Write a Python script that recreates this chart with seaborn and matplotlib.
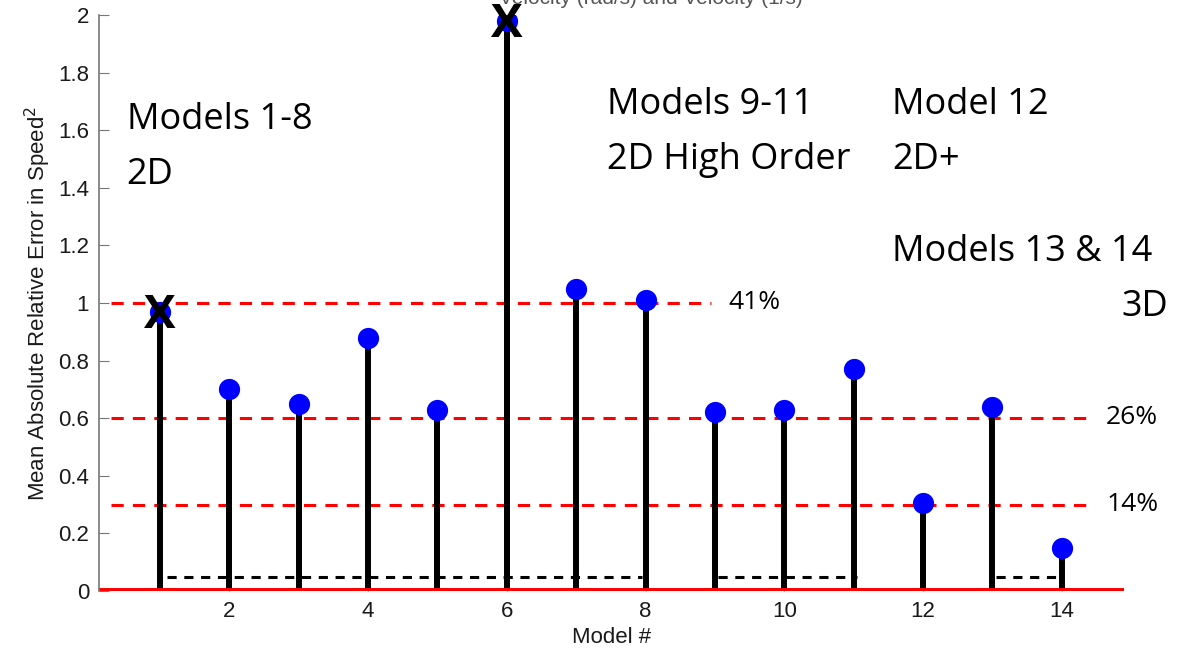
import matplotlib
matplotlib.use("Agg")
import matplotlib.pyplot as plt
import seaborn as sns
import pandas as pd

models = list(range(1, 15))
errors = [0.97, 0.70, 0.65, 0.88, 0.63, 1.98, 1.05, 1.01, 0.62, 0.63, 0.77, 0.305, 0.64, 0.15]
crossed = [1, 6]

thresholds = [1.0, 0.6, 0.3]
threshold_ends = [8.95, 14.35, 14.35]
threshold_labels = ['41%', '26%', '14%']

baseline_y = 0.05
baseline_spans = [(1.1, 7.95), (9.05, 11.05), (13.05, 14.0)]

df = pd.DataFrame({'model': models, 'error': errors})

sns.set_style("ticks")
plt.rcParams['font.family'] = ['Liberation Sans', 'DejaVu Sans']

fig = plt.figure(figsize=(11.88, 6.53), dpi=100)
ax = fig.add_axes([0.0833, 0.095, 0.863, 0.882])

# stems
ax.vlines(df['model'], 0, df['error'], color='black', linewidth=4.3, zorder=3)
sns.scatterplot(data=df, x='model', y='error', color='#0000ff', s=200,
                edgecolor='#0000ff', zorder=4, ax=ax, legend=False)

# threshold lines
for y, x_end in zip(thresholds, threshold_ends):
    ax.plot([0.3, x_end], [y, y], color='red', linestyle=(0, (4, 3)), linewidth=2.2, zorder=2)

# black dashed baseline
for x0, x1 in baseline_spans:
    ax.plot([x0, x1], [baseline_y, baseline_y], color='black', linestyle=(0, (3, 2.5)),
            linewidth=2.2, zorder=2)

# red zero line
ax.plot([0.12, 14.9], [0, 0], color='red', linewidth=5, zorder=5, solid_capstyle='butt')

ax.set_xlim(0.12, 14.9)
ax.set_ylim(0, 2)
ax.set_xticks(range(2, 15, 2))
ax.set_yticks([i / 5 for i in range(11)])
ax.set_yticklabels(['0', '0.2', '0.4', '0.6', '0.8', '1', '1.2', '1.4', '1.6', '1.8', '2'])
ax.tick_params(axis='both', direction='in', length=7, labelsize=16, colors='#1a1a1a',
               color='#777777', pad=7)
for side in ['top', 'right', 'bottom']:
    ax.spines[side].set_visible(False)
ax.spines['left'].set_color('#777777')
ax.spines['left'].set_linewidth(1.2)

ax.set_xlabel('Model #', fontsize=16, color='#1a1a1a', labelpad=4)
ax.set_ylabel('Mean Absolute Relative Error in Speed$^2$', fontsize=16, color='#1a1a1a',
              labelpad=4)

# title, mostly cut off by the top edge as in the source
fig.text(0.548, 0.994, 'Velocity (rad/s) and Velocity (1/s)', fontsize=15, color='#555555',
         ha='center', va='baseline', zorder=1)

# crossed-out models
for m in crossed:
    ax.text(m, errors[m - 1] - 0.012, 'X', fontsize=34, fontweight='bold', ha='center',
            va='center', family='Open Sans', color='black', zorder=6)

big = dict(fontsize=26, family='Open Sans', va='center', color='black')
ax.text(0.52, 1.635, 'Models 1-8', ha='left', **big)
ax.text(0.52, 1.444, '2D', ha='left', **big)
ax.text(7.45, 1.687, 'Models 9-11', ha='left', **big)
ax.text(7.45, 1.497, '2D High Order', ha='left', **big)
ax.text(11.55, 1.687, 'Model 12', ha='left', **big)
ax.text(11.55, 1.497, '2D+', ha='left', **big)
ax.text(11.55, 1.177, 'Models 13 & 14', ha='left', **big)
ax.text(15.53, 0.986, '3D', ha='right', **big)

pct = dict(fontsize=19, family='Open Sans', va='center', ha='left', color='black')
ax.text(9.2, 1.0, threshold_labels[0], **pct)
ax.text(14.64, 0.604, threshold_labels[1], **pct)
ax.text(14.64, 0.30, threshold_labels[2], **pct)

fig.savefig('out.png', dpi=100)
